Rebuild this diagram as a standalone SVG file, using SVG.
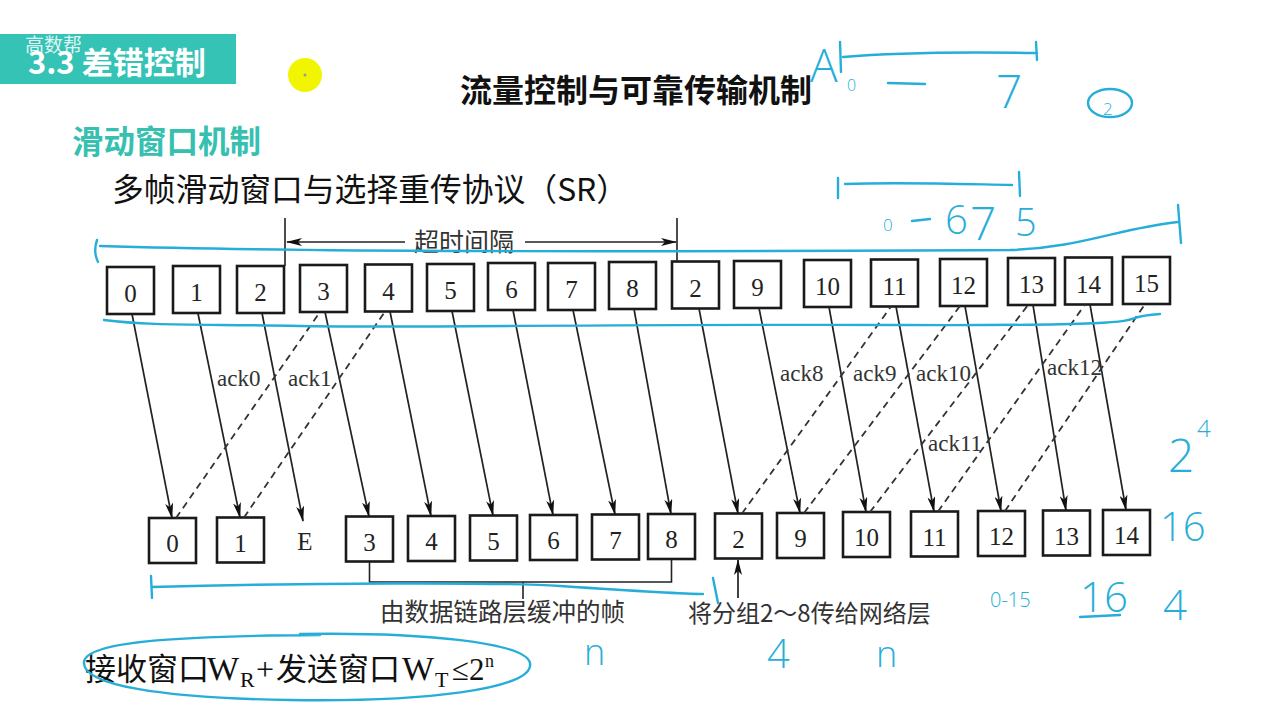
<svg xmlns="http://www.w3.org/2000/svg" width="1280" height="720" viewBox="0 0 1280 720">
<defs>
<marker id="ah" markerUnits="userSpaceOnUse" markerWidth="16" markerHeight="8" refX="15" refY="4" orient="auto"><path d="M0,0 L16,4 L0,8 L4,4 z" fill="#111"/></marker>
</defs>
<style>
.bx{fill:#fff;stroke:#1a1a1a;stroke-width:2.6}
.num{font-family:"Liberation Serif",serif;font-size:25px;fill:#222;text-anchor:middle}
.ack{font-family:"Liberation Serif",serif;font-size:23px;fill:#333}
.sol{stroke:#222;stroke-width:1.7;fill:none;marker-end:url(#ah)}
.dash{stroke:#333;stroke-width:1.8;fill:none;stroke-dasharray:7 5}
.cjk{font-family:"Noto Sans CJK SC",sans-serif}
.ser{font-family:"Liberation Serif",serif}
.hw{fill:none;stroke:#27aed8;stroke-width:2.4;stroke-linecap:round;stroke-linejoin:round}
.hwt{font-family:"Open Sans",sans-serif;font-weight:300;fill:#27aed8}
</style>
<rect width="1280" height="720" fill="#fff"/>

<g id="header">
<rect x="0" y="34" width="236" height="50" fill="#35c3b5"/>
<text class="cjk" x="28" y="74" font-size="31" font-weight="700" fill="#fff">3.3 差错控制</text>
<text class="cjk" x="25" y="52" font-size="19" fill="#fff" fill-opacity="0.85">高数帮</text>
<circle cx="305" cy="75" r="17" fill="#f2f500"/>
<circle cx="305" cy="75" r="1.5" fill="#999"/>
</g>

<g id="titles">
<text class="cjk" x="460" y="102" font-size="32" font-weight="700" fill="#111">流量控制与可靠传输机制</text>
<text class="cjk" x="72" y="153" font-size="31.5" font-weight="700" fill="#35c0b0">滑动窗口机制</text>
<text class="cjk" x="112" y="201" font-size="31.8" fill="#111">多帧滑动窗口与选择重传协议（SR）</text>
</g>

<g id="top-row">
<g id="t0"><rect class="bx" x="107" y="267" width="47" height="47"/><text class="num" x="130.5" y="302">0</text></g>
<g id="t1"><rect class="bx" x="173" y="266" width="47" height="47"/><text class="num" x="196.5" y="301">1</text></g>
<g id="t2"><rect class="bx" x="237" y="266" width="47" height="47"/><text class="num" x="260.5" y="301">2</text></g>
<g id="t3"><rect class="bx" x="300" y="265" width="47" height="47"/><text class="num" x="323.5" y="300">3</text></g>
<g id="t4"><rect class="bx" x="365" y="264.5" width="47" height="47"/><text class="num" x="388.5" y="299.5">4</text></g>
<g id="t5"><rect class="bx" x="427" y="264" width="47" height="47"/><text class="num" x="450.5" y="299">5</text></g>
<g id="t6"><rect class="bx" x="488" y="263" width="47" height="47"/><text class="num" x="511.5" y="298">6</text></g>
<g id="t7"><rect class="bx" x="548" y="263" width="47" height="47"/><text class="num" x="571.5" y="298">7</text></g>
<g id="t8"><rect class="bx" x="609" y="262" width="47" height="47"/><text class="num" x="632.5" y="297">8</text></g>
<g id="t2b"><rect class="bx" x="672" y="261.5" width="47" height="47"/><text class="num" x="695.5" y="296.5">2</text></g>
<g id="t9"><rect class="bx" x="734" y="261" width="47" height="47"/><text class="num" x="757.5" y="296">9</text></g>
<g id="t10"><rect class="bx" x="804" y="260" width="47" height="47"/><text class="num" x="827.5" y="295">10</text></g>
<g id="t11"><rect class="bx" x="871" y="259.5" width="47" height="47"/><text class="num" x="894.5" y="294.5">11</text></g>
<g id="t12"><rect class="bx" x="940" y="259" width="47" height="47"/><text class="num" x="963.5" y="294">12</text></g>
<g id="t13"><rect class="bx" x="1008" y="258" width="47" height="47"/><text class="num" x="1031.5" y="293">13</text></g>
<g id="t14"><rect class="bx" x="1065" y="257.5" width="47" height="47"/><text class="num" x="1088.5" y="292.5">14</text></g>
<g id="t15"><rect class="bx" x="1123" y="257" width="47" height="47"/><text class="num" x="1146.5" y="292">15</text></g>
</g>

<g id="bottom-row">
<g id="b0"><rect class="bx" x="149" y="518" width="47" height="45"/><text class="num" x="172.5" y="552">0</text></g>
<g id="b1"><rect class="bx" x="217" y="517.5" width="47" height="45"/><text class="num" x="240.5" y="551.5">1</text></g>
<g id="bE"><text class="num" x="305" y="550">E</text></g>
<g id="b3"><rect class="bx" x="346" y="516.5" width="47" height="45"/><text class="num" x="369.5" y="550.5">3</text></g>
<g id="b4"><rect class="bx" x="408" y="516" width="47" height="45"/><text class="num" x="431.5" y="550">4</text></g>
<g id="b5"><rect class="bx" x="470" y="515.5" width="47" height="45"/><text class="num" x="493.5" y="549.5">5</text></g>
<g id="b6"><rect class="bx" x="530" y="515" width="47" height="45"/><text class="num" x="553.5" y="549">6</text></g>
<g id="b7"><rect class="bx" x="592" y="514.5" width="47" height="45"/><text class="num" x="615.5" y="548.5">7</text></g>
<g id="b8"><rect class="bx" x="648" y="514" width="47" height="45"/><text class="num" x="671.5" y="548">8</text></g>
<g id="b2"><rect class="bx" x="715" y="513.5" width="47" height="45"/><text class="num" x="738.5" y="547.5">2</text></g>
<g id="b9"><rect class="bx" x="777" y="513" width="47" height="45"/><text class="num" x="800.5" y="547">9</text></g>
<g id="b10"><rect class="bx" x="843" y="512" width="47" height="45"/><text class="num" x="866.5" y="546">10</text></g>
<g id="b11"><rect class="bx" x="911" y="511.5" width="47" height="45"/><text class="num" x="934.5" y="545.5">11</text></g>
<g id="b12"><rect class="bx" x="978" y="511" width="47" height="45"/><text class="num" x="1001.5" y="545">12</text></g>
<g id="b13"><rect class="bx" x="1043" y="510.5" width="47" height="45"/><text class="num" x="1066.5" y="544.5">13</text></g>
<g id="b14"><rect class="bx" x="1103" y="510" width="47" height="45"/><text class="num" x="1126.5" y="544">14</text></g>
</g>

<g id="connectors">
<path class="sol" d="M132 314 L172 518"/>
<path class="sol" d="M198 313.5 L240 517.5"/>
<path class="sol" d="M262 313 L303 521"/>
<path class="sol" d="M325 312 L369 516.5"/>
<path class="sol" d="M390 311.5 L431 516"/>
<path class="sol" d="M452 311 L493 515.5"/>
<path class="sol" d="M513 310 L553 515"/>
<path class="sol" d="M573 310 L615 514.5"/>
<path class="sol" d="M634 309 L671 514"/>
<path class="sol" d="M699 308.5 L738 513.5"/>
<path class="sol" d="M759 308 L800 513"/>
<path class="sol" d="M829 307 L866 512"/>
<path class="sol" d="M896 306.5 L934 511.5"/>
<path class="sol" d="M965 306 L1001 511"/>
<path class="sol" d="M1033 305 L1066 510.5"/>
<path class="sol" d="M1090 304.5 L1126 510"/>
<path class="dash" d="M176 518 L320 312"/>
<path class="dash" d="M244 517.5 L385 311.5"/>
<path class="dash" d="M742 513.5 L891 306.5"/>
<path class="dash" d="M804 513 L960 306"/>
<path class="dash" d="M870 512 L1028 305"/>
<path class="dash" d="M938 511.5 L1085 304.5"/>
<path class="dash" d="M1005 511 L1145 304"/>
<path d="M285 218 V266 M677 218 V261.5" stroke="#222" stroke-width="1.6" fill="none"/>
<path class="sol" d="M405 242 L287 242"/>
<path class="sol" d="M525 242 L676 242"/>
<path d="M369.5 562 V582 H671.5 V559 M523 582 V599" stroke="#222" stroke-width="1.6" fill="none"/>
<path class="sol" d="M738 598 L738 560"/>
</g>

<g id="labels">
<text class="ack" x="217" y="386">ack0</text>
<text class="ack" x="288" y="386">ack1</text>
<text class="ack" x="780" y="381">ack8</text>
<text class="ack" x="853" y="381">ack9</text>
<text class="ack" x="916" y="381">ack10</text>
<text class="ack" x="1047" y="375">ack12</text>
<text class="ack" x="928" y="451">ack11</text>
<text class="cjk" x="464" y="251" font-size="25" fill="#333" text-anchor="middle">超时间隔</text>
<text class="cjk" x="380" y="621" font-size="24.5" fill="#333">由数据链路层缓冲的帧</text>
<text class="cjk" x="688" y="622" font-size="24" fill="#333">将分组2～8传给网络层</text>
</g>

<g id="formula" fill="#111">
<text y="680" font-size="31"><tspan class="cjk" x="85">接收窗口</tspan><tspan class="ser" x="207" font-size="34">W</tspan><tspan class="ser" x="240" dy="7" font-size="22">R</tspan><tspan class="ser" x="256" dy="-7" font-size="32">+</tspan><tspan class="cjk" x="276">发送窗口</tspan><tspan class="ser" x="402" font-size="34">W</tspan><tspan class="ser" x="435" dy="7" font-size="22">T</tspan><tspan class="ser" x="452" dy="-7" font-size="31">≤2</tspan><tspan class="ser" x="485" dy="-13" font-size="18">n</tspan></text>
</g>

<g id="handwriting">
<text class="hwt" x="810" y="82" font-size="46">A</text>
<path class="hw" d="M840 42 L841 72 M843 57 C900 52 980 52 1037 53 M1036 42 L1037 60"/>
<text class="hwt" x="847" y="91" font-size="16">0</text>
<path class="hw" d="M888 83 L925 84"/>
<text class="hwt" x="996" y="108" font-size="46">7</text>
<ellipse class="hw" cx="1110" cy="103" rx="22" ry="14"/>
<text class="hwt" x="1103" y="115" font-size="17">2</text>
<path class="hw" d="M838 178 L838 198 M845 184 C900 182 960 184 1012 185 M1019 172 L1020 196"/>
<text class="hwt" x="883" y="231" font-size="17">0</text>
<path class="hw" d="M912 221 L930 219"/>
<text class="hwt" x="945" y="234" font-size="40">6</text>
<text class="hwt" x="970" y="240" font-size="46">7</text>
<text class="hwt" x="1015" y="236" font-size="38">5</text>
<path class="hw" d="M97 240 Q93 252 98 262 M100 246 C300 252 600 252 1010 250 C1080 248 1120 228 1178 222 M1178 205 L1181 243"/>
<path class="hw" d="M104 320 C150 326 200 324 300 326 S600 324 900 325 S1100 318 1160 314"/>
<text class="hwt" x="1168" y="472" font-size="46">2</text>
<text class="hwt" x="1197" y="437" font-size="24">4</text>
<text class="hwt" x="1160" y="541" font-size="40">16</text>
<path class="hw" d="M151 576 L152 598 M152 587 C300 583 500 582 560 586 S680 594 703 594 M713 578 L718 603"/>
<text class="hwt" x="990" y="607" font-size="20">0-15</text>
<text class="hwt" x="1080" y="612" font-size="42">16</text>
<path class="hw" d="M1080 617 L1120 615"/>
<text class="hwt" x="1163" y="620" font-size="42">4</text>
<text class="hwt" x="767" y="668" font-size="40">4</text>
<text class="hwt" x="876" y="667" font-size="36">n</text>
<text class="hwt" x="584" y="665" font-size="36">n</text>
<path class="hw" d="M300 634 C420 632 525 642 530 663 C535 690 420 702 290 700 C160 698 82 685 84 662 C86 642 170 636 320 635"/>
</g>
</svg>
